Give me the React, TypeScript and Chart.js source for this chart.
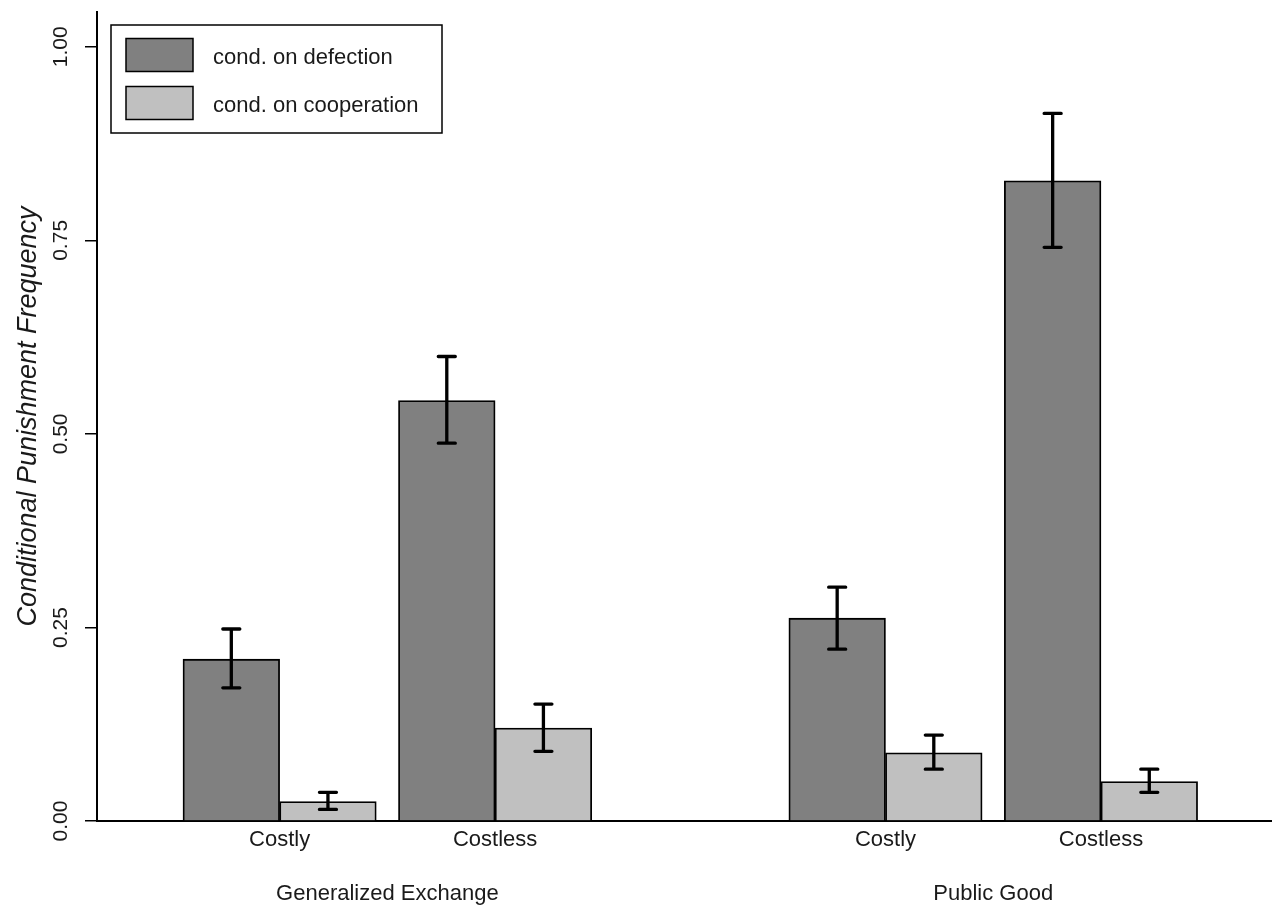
import React, { useEffect, useRef } from 'react';
import { Chart, registerables } from 'chart.js';

Chart.register(...registerables);

// ---- data ----
const GROUPS = ['Generalized Exchange', 'Public Good'];
const CONDITIONS = ['Costly', 'Costless'];
const SERIES = ['cond. on defection', 'cond. on cooperation'];
const DEFECTION = [0.209, 0.543, 0.262, 0.827];
const DEFECTION_LO = [0.172, 0.488, 0.222, 0.741];
const DEFECTION_HI = [0.248, 0.6, 0.302, 0.914];
const COOPERATION = [0.025, 0.12, 0.088, 0.051];
const COOPERATION_LO = [0.015, 0.09, 0.067, 0.037];
const COOPERATION_HI = [0.037, 0.151, 0.111, 0.067];
const Y_TICKS = [0, 0.25, 0.5, 0.75, 1.0];
const Y_TICK_LABELS = ['0.00', '0.25', '0.50', '0.75', '1.00'];

// ---- layout (barplot spacing, in bar-width units) ----
const LEFT_SPACE = 0.89;
const PAIR_GAP = 0.23;
const GROUP_GAP = 2.04;
const X_MAX = 12.16;
const Y_MAX = 1.045;

const FONT = "'Liberation Sans', Arial, sans-serif";
const TEXT = '#1a1a1a';
const COLORS = ['#808080', '#c0c0c0'];

const pairLefts: number[] = [];
{
  let pos = LEFT_SPACE;
  GROUPS.forEach((_, gi) => {
    CONDITIONS.forEach((__, ci) => {
      pairLefts.push(pos);
      pos += 2;
      if (ci < CONDITIONS.length - 1) pos += PAIR_GAP;
    });
    if (gi < GROUPS.length - 1) pos += GROUP_GAP;
  });
}
const pairCenters = pairLefts.map((l) => l + 1);
const groupCenters = GROUPS.map((_, gi) => {
  const idx = pairLefts.slice(gi * CONDITIONS.length, (gi + 1) * CONDITIONS.length);
  return (idx[0] + idx[idx.length - 1] + 2) / 2;
});

const errorBars = {
  id: 'errorBars',
  afterDatasetsDraw(chart: any) {
    const ctx = chart.ctx;
    const y = chart.scales.y;
    chart.data.datasets.forEach((ds: any, di: number) => {
      const meta = chart.getDatasetMeta(di);
      meta.data.forEach((el: any, i: number) => {
        const top = y.getPixelForValue(ds.errHi[i]);
        const bot = y.getPixelForValue(ds.errLo[i]);
        ctx.save();
        ctx.strokeStyle = '#000';
        ctx.lineWidth = 3.3;
        ctx.lineCap = 'round';
        ctx.beginPath();
        ctx.moveTo(el.x, top);
        ctx.lineTo(el.x, bot);
        ctx.moveTo(el.x - 8.5, top);
        ctx.lineTo(el.x + 8.5, top);
        ctx.moveTo(el.x - 8.5, bot);
        ctx.lineTo(el.x + 8.5, bot);
        ctx.stroke();
        ctx.restore();
      });
    });
  },
};

const yLabels = {
  id: 'yLabels',
  afterDraw(chart: any) {
    const ctx = chart.ctx;
    const y = chart.scales.y;
    ctx.save();
    ctx.fillStyle = TEXT;
    ctx.font = `21px ${FONT}`;
    ctx.textAlign = 'center';
    ctx.textBaseline = 'middle';
    Y_TICKS.forEach((v, i) => {
      const py = y.getPixelForValue(v);
      ctx.save();
      ctx.translate(y.right - 36, py);
      ctx.rotate(-Math.PI / 2);
      ctx.fillText(Y_TICK_LABELS[i], 0, 0);
      ctx.restore();
    });
    ctx.restore();
  },
};

const boxLegend = {
  id: 'boxLegend',
  afterDraw(chart: any) {
    const ctx = chart.ctx;
    const area = chart.chartArea;
    const left = area.left + 14;
    const top = 25;
    const width = 331;
    const height = 108;
    ctx.save();
    ctx.strokeStyle = '#000';
    ctx.lineWidth = 1.5;
    ctx.fillStyle = '#fff';
    ctx.fillRect(left, top, width, height);
    ctx.strokeRect(left, top, width, height);
    ctx.font = `22px ${FONT}`;
    ctx.textBaseline = 'middle';
    ctx.textAlign = 'left';
    chart.data.datasets.forEach((ds: any, i: number) => {
      const cy = top + 30.5 + i * 48;
      ctx.fillStyle = ds.backgroundColor;
      ctx.fillRect(left + 15, cy - 17, 67, 33);
      ctx.strokeRect(left + 15, cy - 17, 67, 33);
      ctx.fillStyle = TEXT;
      ctx.fillText(ds.label, left + 102, cy + 2);
    });
    ctx.restore();
  },
};

export default function App() {
  const ref = useRef<HTMLCanvasElement>(null);
  useEffect(() => {
    if (!ref.current) return;
    const chart = new Chart(ref.current, {
      type: 'bar',
      data: {
        datasets: [
          {
            label: SERIES[0],
            data: DEFECTION.map((v, i) => ({ x: pairLefts[i] + 0.5, y: v })),
            backgroundColor: COLORS[0],
            borderColor: '#000',
            borderWidth: 1.8,
            grouped: false,
            categoryPercentage: 1,
            barPercentage: 1,
            errLo: DEFECTION_LO,
            errHi: DEFECTION_HI,
          } as any,
          {
            label: SERIES[1],
            data: COOPERATION.map((v, i) => ({ x: pairLefts[i] + 1.5, y: v })),
            backgroundColor: COLORS[1],
            borderColor: '#000',
            borderWidth: 1.8,
            grouped: false,
            categoryPercentage: 1,
            barPercentage: 1,
            errLo: COOPERATION_LO,
            errHi: COOPERATION_HI,
          } as any,
        ],
      },
      options: {
        animation: false,
        responsive: true,
        maintainAspectRatio: false,
        layout: { padding: { top: 12, right: 0, bottom: 0, left: 0 } },
        plugins: { legend: { display: false }, tooltip: { enabled: false } },
        scales: {
          x: {
            type: 'linear',
            position: 'bottom',
            weight: 0,
            offset: false,
            min: 0,
            max: X_MAX,
            grid: { display: false, drawTicks: false },
            border: { display: true, color: '#000', width: 2 },
            afterBuildTicks: (s: any) => {
              s.ticks = pairCenters.map((v) => ({ value: v }));
            },
            ticks: {
              autoSkip: false,
              maxRotation: 0,
              padding: 6,
              color: TEXT,
              font: { family: FONT, size: 22 },
              callback: (_v: any, i: number) => CONDITIONS[i % CONDITIONS.length],
            },
            afterFit: (s: any) => {
              s.height = 42;
            },
          } as any,
          x2: {
            type: 'linear',
            position: 'bottom',
            weight: 1,
            offset: false,
            min: 0,
            max: X_MAX,
            grid: { display: false, drawTicks: false },
            border: { display: false },
            afterBuildTicks: (s: any) => {
              s.ticks = groupCenters.map((v) => ({ value: v }));
            },
            ticks: {
              autoSkip: false,
              maxRotation: 0,
              padding: 18,
              color: TEXT,
              font: { family: FONT, size: 22 },
              callback: (_v: any, i: number) => GROUPS[i],
            },
            afterFit: (s: any) => {
              s.height = 43;
            },
          } as any,
          y: {
            type: 'linear',
            min: 0,
            max: Y_MAX,
            afterBuildTicks: (s: any) => {
              s.ticks = Y_TICKS.map((v) => ({ value: v }));
            },
            grid: {
              display: true,
              drawOnChartArea: false,
              drawTicks: true,
              tickLength: 12,
              color: '#000',
              lineWidth: 1.5,
            },
            border: { display: true, color: '#000', width: 2 },
            ticks: { display: false },
            title: {
              display: true,
              text: 'Conditional Punishment Frequency',
              color: TEXT,
              font: { family: FONT, size: 27, style: 'italic' },
              padding: { top: 12, bottom: 0 },
            },
            afterFit: (s: any) => {
              s.width = 97;
            },
          } as any,
        },
      },
      plugins: [errorBars, yLabels, boxLegend],
    });
    return () => chart.destroy();
  }, []);
  return (
    <div style={{ position: 'absolute', left: 0, top: 0, width: 1272, height: 906, background: '#fff' }}>
      <canvas ref={ref} />
    </div>
  );
}
